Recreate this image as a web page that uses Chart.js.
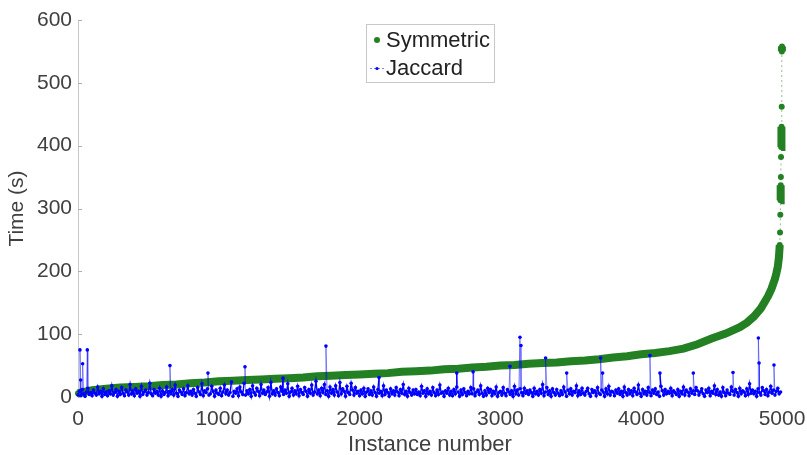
<!DOCTYPE html>
<html lang="en">

<head>
    <meta charset="UTF-8">
    <title>Time per instance</title>
    <style>
        body { margin: 0; background: #fff; }
    </style>
</head>

<body>
    <canvas id="timeChart" width="807" height="455"></canvas>
    <script src="https://cdn.jsdelivr.net/npm/chart.js"></script>
    <script>
        // Symmetric: sorted times
        const symInstance = [0, 100, 200, 300, 400, 500, 600, 700, 800, 900,
            1000, 1100, 1200, 1300, 1400, 1500, 1600, 1700, 1800, 1900,
            2000, 2100, 2200, 2300, 2400, 2500, 2600, 2700, 2800, 2900,
            3000, 3100, 3200, 3300, 3400, 3500, 3600, 3700, 3800, 3900,
            4000, 4100, 4200, 4300, 4400, 4500, 4600, 4700, 4750, 4800,
            4850, 4900, 4925, 4950, 4960, 4970, 4978, 4984, 4986, 4988,
            4989, 4990, 4991, 4992, 4993, 4994, 4995, 4996, 4997, 4998, 4999, 5000];
        const symTime = [6, 11, 13, 15, 16, 17, 19, 20, 22, 23,
            25, 26, 27, 28, 29, 30, 31, 33, 34, 35,
            36, 37, 38, 40, 41, 42, 44, 45, 47, 48,
            50, 51, 53, 54, 55, 57, 58, 60, 63, 65,
            68, 70, 73, 77, 84, 93, 101, 111, 118, 128,
            141, 160, 172, 188, 197, 207, 222, 242, 262, 290,
            313, 325, 337, 350, 382, 398, 410, 420, 430, 462, 550, 558, 566];

        // Jaccard: base level every 10 instances, plus the visible spikes
        const jacBaseStep = 10;
        const jacBase = [
            3, 9, 2, 12, 5, 1, 8, 14, 4, 7, 2, 11, 6, 3, 16, 5, 9, 1, 13, 4,
            8, 2, 10, 5, 18, 3, 7, 12, 1, 9, 4, 15, 6, 2, 11, 8, 3, 20, 5, 10,
            2, 13, 6, 9, 1, 17, 4, 8, 11, 3, 7, 22, 5, 2, 12, 6, 9, 3, 14, 1,
            10, 4, 7, 16, 2, 9, 5, 12, 3, 19, 6, 1, 11, 8, 4, 13, 2, 7, 18, 5,
            9, 3, 12, 6, 1, 15, 8, 4, 21, 2, 10, 7, 13, 3, 5, 17, 9, 1, 11, 6,
            4, 14, 2, 8, 19, 5, 11, 3, 7, 24, 1, 9, 6, 13, 2, 16, 8, 4, 22, 3,
            10, 5, 12, 1, 18, 7, 3, 14, 9, 2, 20, 6, 11, 4, 8, 15, 1, 23, 5, 10,
            3, 13, 7, 2, 16, 9, 4, 11, 6, 21, 1, 8, 14, 3, 10, 5, 17, 2, 12, 7,
            4, 15, 9, 1, 12, 6, 19, 3, 8, 25, 5, 11, 2, 14, 7, 20, 4, 10, 1, 16,
            6, 12, 3, 18, 8, 2, 23, 5, 13, 9, 1, 17, 7, 4, 22, 11, 3, 15, 6, 9,
            2, 11, 5, 14, 1, 8, 13, 4, 10, 3, 16, 7, 1, 12, 6, 9, 2, 18, 4, 11,
            7, 1, 13, 5, 10, 3, 15, 8, 2, 12, 6, 20, 4, 9, 1, 14, 7, 3, 11, 5,
            12, 4, 8, 2, 17, 6, 10, 1, 13, 5, 9, 3, 15, 7, 2, 11, 4, 19, 6, 8,
            1, 10, 6, 14, 3, 9, 2, 12, 5, 16, 8, 1, 11, 4, 13, 7, 2, 9, 5, 15,
            5, 13, 2, 8, 11, 4, 18, 6, 1, 10, 3, 14, 7, 12, 2, 9, 5, 16, 1, 7,
            9, 3, 15, 6, 2, 12, 8, 4, 10, 1, 17, 5, 11, 3, 13, 7, 2, 14, 6, 10,
            4, 11, 7, 1, 14, 5, 9, 3, 12, 6, 20, 2, 8, 15, 4, 10, 1, 13, 7, 3,
            12, 6, 2, 10, 4, 16, 8, 1, 11, 5, 13, 3, 9, 7, 18, 2, 10, 4, 14, 6,
            3, 9, 14, 5, 1, 12, 7, 10, 2, 15, 6, 4, 11, 8, 1, 13, 5, 17, 3, 9,
            8, 2, 11, 6, 13, 4, 9, 1, 16, 7, 3, 12, 5, 10, 2, 14, 8, 4, 19, 6,
            1, 12, 5, 9, 3, 15, 7, 2, 11, 6, 13, 4, 8, 1, 17, 10, 3, 12, 5, 9,
            6, 14, 2, 10, 7, 4, 12, 1, 9, 5, 16, 3, 11, 8, 2, 13, 6, 10, 4, 15,
            10, 3, 8, 13, 5, 1, 11, 7, 14, 2, 9, 6, 18, 4, 12, 3, 8, 1, 15, 7,
            2, 11, 6, 4, 16, 9, 3, 12, 7, 1, 14, 5, 10, 8, 2, 13, 4, 21, 6, 11,
            5, 9, 1, 13, 7, 3, 15, 10, 4, 12, 2, 8, 17, 6, 11, 3, 9, 14, 5, 8];
        const jacSpikeInstance = [14, 19, 33, 66, 653, 923, 1186, 1456, 1761, 2138,
            2690, 2806, 3068, 3139, 3146, 3321, 3471, 3712, 3726, 4062,
            4133, 4370, 4652, 4832, 4837, 4943];
        const jacSpikeTime = [75, 27, 53, 75, 50, 38, 48, 30, 81, 31,
            38, 40, 49, 95, 82, 62, 38, 62, 38, 66,
            38, 38, 39, 94, 54, 51];

        const xTicks = [0, 1000, 2000, 3000, 4000, 5000];
        const yTicks = [0, 100, 200, 300, 400, 500, 600];

        const green = '#238023';
        const blue = '#0000ff';
        const textColor = '#404040';
        const fontFamily = '"Liberation Sans", Arial, sans-serif';

        const symPoints = symInstance.map((x, i) => ({ x: x, y: symTime[i] }));

        const jacPoints = jacBase.map((v, i) => ({ x: i * jacBaseStep, y: v }))
            .concat(jacSpikeInstance.map((x, i) => ({ x: x, y: jacSpikeTime[i] })))
            .sort((a, b) => a.x - b.x);

        // the last few runs sit far apart: thin dotted join there, like the original
        const isTailJump = s => Math.abs(s.p1.parsed.y - s.p0.parsed.y) > 12 && (s.p1.parsed.x - s.p0.parsed.x) <= 2;
        // Jaccard spikes: the joins look faint in the original
        const isSpike = s => Math.abs(s.p1.parsed.y - s.p0.parsed.y) > 22;

        // legend box + little inside ticks on the y axis (matlab look)
        const extras = {
            id: 'extras',
            afterDraw(chart) {
                const c = chart.ctx;
                const yScale = chart.scales.y;
                const left = chart.chartArea.left;
                c.save();
                c.strokeStyle = '#b0b0b0';
                c.lineWidth = 1;
                yTicks.forEach(v => {
                    const py = Math.round(yScale.getPixelForValue(v)) + 0.5;
                    c.beginPath();
                    c.moveTo(left, py);
                    c.lineTo(left + 4, py);
                    c.stroke();
                });

                // legend
                const bx = 366.5, by = 24.5, bw = 128, bh = 58;
                c.fillStyle = '#fff';
                c.fillRect(bx, by, bw, bh);
                c.strokeStyle = '#c8c8c8';
                c.strokeRect(bx, by, bw, bh);

                c.fillStyle = green;
                c.beginPath();
                c.arc(377, 40, 3, 0, Math.PI * 2);
                c.fill();

                c.strokeStyle = 'rgba(0,0,255,0.5)';
                c.setLineDash([2, 2]);
                c.beginPath();
                c.moveTo(370, 68.5);
                c.lineTo(384, 68.5);
                c.stroke();
                c.setLineDash([]);
                c.fillStyle = blue;
                c.beginPath();
                c.arc(377, 68.5, 1.6, 0, Math.PI * 2);
                c.fill();

                c.fillStyle = '#222';
                c.font = '22px ' + fontFamily;
                c.textBaseline = 'middle';
                c.textAlign = 'left';
                c.fillText('Symmetric', 386, 41);
                c.fillText('Jaccard', 386, 69);
                c.restore();
            }
        };

        const ctx = document.getElementById('timeChart').getContext('2d');
        const timeChart = new Chart(ctx, {
            type: 'line',
            data: {
                datasets: [{
                    label: 'Jaccard',
                    data: jacPoints,
                    order: 0,
                    borderColor: blue,
                    borderWidth: 1.4,
                    pointRadius: 1.8,
                    pointBackgroundColor: blue,
                    pointBorderWidth: 0,
                    tension: 0,
                    clip: false,
                    segment: {
                        borderWidth: s => isSpike(s) ? 1 : undefined,
                        borderColor: s => isSpike(s) ? 'rgba(0,0,255,0.45)' : undefined
                    }
                }, {
                    label: 'Symmetric',
                    data: symPoints,
                    order: 1,
                    borderColor: green,
                    borderWidth: 8,
                    pointRadius: 3,
                    pointBackgroundColor: green,
                    pointBorderWidth: 0,
                    tension: 0,
                    clip: false,
                    segment: {
                        borderWidth: s => isTailJump(s) ? 1 : undefined,
                        borderDash: s => isTailJump(s) ? [2, 3] : undefined,
                        borderColor: s => isTailJump(s) ? 'rgba(35,128,35,0.5)' : undefined
                    }
                }]
            },
            options: {
                responsive: false,
                animation: false,
                layout: {
                    padding: { top: 20, right: 25, left: 0, bottom: 0 }
                },
                plugins: {
                    legend: { display: false },
                    tooltip: { enabled: false }
                },
                scales: {
                    x: {
                        type: 'linear',
                        min: 0,
                        max: 5000,
                        afterFit: s => {
                            s.height = 58;
                            s.paddingLeft = 0;
                            s.paddingRight = 25;
                        },
                        afterBuildTicks: s => { s.ticks = xTicks.map(v => ({ value: v })); },
                        grid: { display: false, drawTicks: false },
                        border: { display: false },
                        ticks: {
                            color: textColor,
                            padding: 10,
                            callback: v => String(v),
                            font: { size: 21, family: fontFamily }
                        },
                        title: {
                            display: true,
                            text: 'Instance number',
                            color: textColor,
                            padding: 0,
                            font: { size: 22, family: fontFamily, lineHeight: 0.9 }
                        }
                    },
                    y: {
                        min: 0,
                        max: 600,
                        afterFit: s => { s.width = 78; },
                        afterBuildTicks: s => { s.ticks = yTicks.map(v => ({ value: v })); },
                        grid: { drawOnChartArea: false, drawTicks: false },
                        border: { display: true, color: '#c8c8c8', width: 1 },
                        ticks: {
                            color: textColor,
                            padding: 6,
                            font: { size: 21, family: fontFamily }
                        },
                        title: {
                            display: true,
                            text: 'Time (s)',
                            color: textColor,
                            padding: { top: 5, bottom: 0 },
                            font: { size: 21, family: fontFamily }
                        }
                    }
                }
            },
            plugins: [extras]
        });
    </script>
</body>

</html>
